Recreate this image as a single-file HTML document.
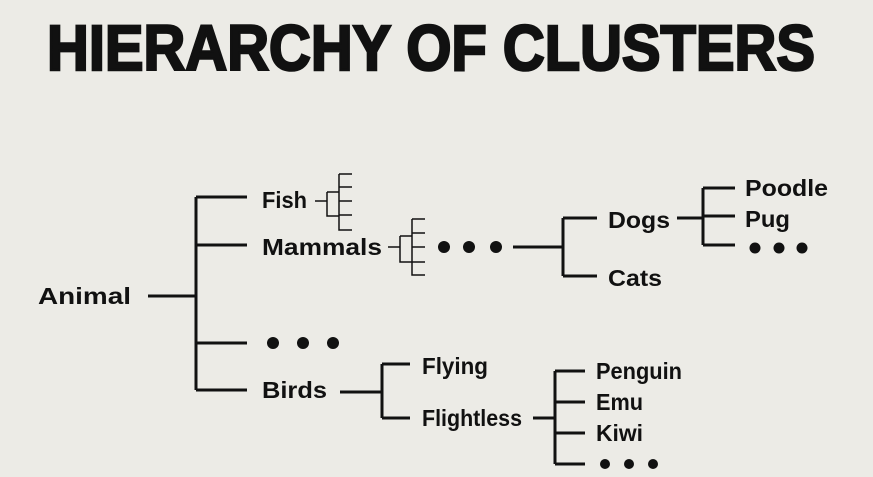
<!DOCTYPE html>
<html><head><meta charset="utf-8"><style>
html,body{margin:0;padding:0;background:#ecebe6;}
svg{display:block;}
text{font-family:"Liberation Sans",sans-serif;font-weight:bold;fill:#111;}
</style></head><body>
<svg width="873" height="477" viewBox="0 0 873 477">
<rect width="873" height="477" fill="#ecebe6"/>
<text x="47" y="70" font-size="64" textLength="768" lengthAdjust="spacingAndGlyphs" stroke="#111" stroke-width="2.5">HIERARCHY OF CLUSTERS</text>
<g stroke="#111" stroke-width="3" fill="none">
<path d="M148 296H196M196 197V390M196 197H247M196 245H247M196 343H247M196 390H247"/>
<path d="M513 247H563M563 218V276M563 218H597M563 276H597"/>
<path d="M677 218H703M703 188V245M703 188H735M703 216H735M703 245H735"/>
<path d="M340 392H382M382 364V418M382 364H410M382 418H410"/>
<path d="M533 418H555M555 371V464M555 371H585M555 402H585M555 433H585M555 464H585"/>
</g>
<g stroke="#111" stroke-width="1.5" fill="none">
<path d="M315 201H327M327 192V216H339M327 192H339M339 174V201M339 174H352M339 187H352M339 201H352M339 201V230H352M339 215H352"/>
<path d="M388 247H400M400 236V262H412M400 236H412M412 219V247M412 219H425M412 233H425M412 247H425M412 247V275H425M412 262H425"/>
</g>
<g fill="#111">
<circle cx="444" cy="247" r="6"/><circle cx="469" cy="247" r="6"/><circle cx="496" cy="247" r="6"/>
<circle cx="273" cy="343" r="6"/><circle cx="303" cy="343" r="6"/><circle cx="333" cy="343" r="6"/>
<circle cx="755" cy="248" r="5.5"/><circle cx="779" cy="248" r="5.5"/><circle cx="802" cy="248" r="5.5"/>
<circle cx="605" cy="464" r="5"/><circle cx="629" cy="464" r="5"/><circle cx="653" cy="464" r="5"/>
</g>
<g font-size="23" dominant-baseline="central" lengthAdjust="spacingAndGlyphs">
<text x="38" y="296" textLength="93" lengthAdjust="spacingAndGlyphs">Animal</text>
<text x="262" y="200" textLength="45" lengthAdjust="spacingAndGlyphs">Fish</text>
<text x="262" y="247" textLength="120" lengthAdjust="spacingAndGlyphs">Mammals</text>
<text x="262" y="390" textLength="65" lengthAdjust="spacingAndGlyphs">Birds</text>
<text x="608" y="220" textLength="62" lengthAdjust="spacingAndGlyphs">Dogs</text>
<text x="608" y="278" textLength="54" lengthAdjust="spacingAndGlyphs">Cats</text>
<text x="745" y="188" textLength="83" lengthAdjust="spacingAndGlyphs">Poodle</text>
<text x="745" y="219" textLength="45" lengthAdjust="spacingAndGlyphs">Pug</text>
<text x="422" y="366" textLength="66" lengthAdjust="spacingAndGlyphs">Flying</text>
<text x="422" y="418" textLength="100" lengthAdjust="spacingAndGlyphs">Flightless</text>
<text x="596" y="371" textLength="86" lengthAdjust="spacingAndGlyphs">Penguin</text>
<text x="596" y="402" textLength="47" lengthAdjust="spacingAndGlyphs">Emu</text>
<text x="596" y="433" textLength="47" lengthAdjust="spacingAndGlyphs">Kiwi</text>
</g>
</svg>
</body></html>
